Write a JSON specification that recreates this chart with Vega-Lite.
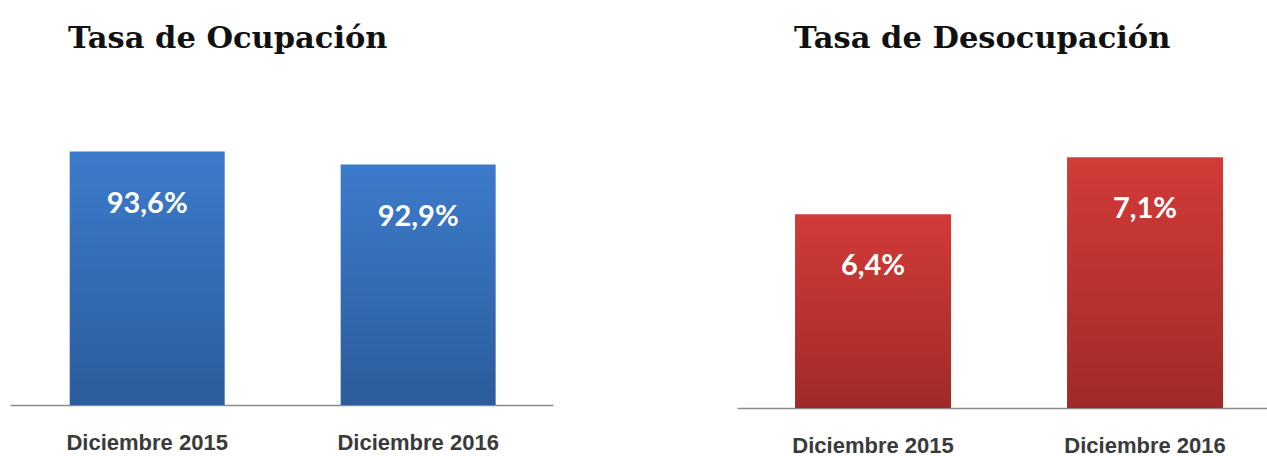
{
  "$schema": "https://vega.github.io/schema/vega-lite/v6.json",
  "background": "white",
  "padding": {"left": 10, "top": 23, "right": 0, "bottom": 0},
  "spacing": 184,
  "config": {
    "view": {"stroke": null},
    "axisX": {
      "domainColor": "#8c8c8c",
      "domainWidth": 1.5,
      "ticks": false,
      "grid": false,
      "labelFont": "Liberation Sans",
      "labelFontSize": 22,
      "labelFontWeight": "bold",
      "labelColor": "#3a3a3a",
      "labelPadding": 27,
      "labelAngle": 0,
      "title": null
    },
    "title": {
      "font": "DejaVu Serif",
      "fontSize": 30.5,
      "fontWeight": "bold",
      "color": "#111111",
      "anchor": "start",
      "baseline": "alphabetic",
      "offset": 54
    }
  },
  "hconcat": [
    {
      "width": 543,
      "height": 297,
      "title": {"text": "Tasa de Ocupación", "dx": 58},
      "data": {
        "values": [
          {"periodo": "Diciembre 2015", "tasa": 93.6, "etiqueta": "93,6%"},
          {"periodo": "Diciembre 2016", "tasa": 92.9, "etiqueta": "92,9%"}
        ]
      },
      "encoding": {
        "x": {
          "field": "periodo",
          "type": "nominal",
          "sort": null,
          "scale": {"paddingInner": 0.428, "paddingOuter": 0.216, "align": 0.51}
        },
        "y": {
          "field": "tasa",
          "type": "quantitative",
          "scale": {"domain": [79.95, 95.95], "nice": false, "zero": false},
          "axis": null
        }
      },
      "layer": [
        {
          "mark": {
            "type": "bar",
            "color": {
              "gradient": "linear",
              "x1": 0, "y1": 0, "x2": 0, "y2": 1,
              "stops": [
                {"offset": 0, "color": "#3c7bcb"},
                {"offset": 1, "color": "#2c5c9b"}
              ]
            }
          },
          "encoding": {"y2": {"datum": 79.95}}
        },
        {
          "mark": {
            "type": "text",
            "color": "white",
            "font": "Lato",
            "fontSize": 29,
            "fontWeight": "bold",
            "baseline": "alphabetic",
            "dy": 61
          },
          "encoding": {"text": {"field": "etiqueta"}}
        }
      ]
    },
    {
      "width": 530,
      "height": 300,
      "title": {"text": "Tasa de Desocupación", "dx": 57},
      "data": {
        "values": [
          {"periodo": "Diciembre 2015", "tasa": 6.4, "etiqueta": "6,4%"},
          {"periodo": "Diciembre 2016", "tasa": 7.1, "etiqueta": "7,1%"}
        ]
      },
      "encoding": {
        "x": {
          "field": "periodo",
          "type": "nominal",
          "sort": null,
          "scale": {"paddingInner": 0.4265, "paddingOuter": 0.1875, "align": 0.569}
        },
        "y": {
          "field": "tasa",
          "type": "quantitative",
          "scale": {"domain": [4.02, 7.705], "nice": false, "zero": false},
          "axis": null
        }
      },
      "layer": [
        {
          "mark": {
            "type": "bar",
            "color": {
              "gradient": "linear",
              "x1": 0, "y1": 0, "x2": 0, "y2": 1,
              "stops": [
                {"offset": 0, "color": "#d23b38"},
                {"offset": 1, "color": "#9f2a28"}
              ]
            }
          },
          "encoding": {"y2": {"datum": 4.02}}
        },
        {
          "mark": {
            "type": "text",
            "color": "white",
            "font": "Lato",
            "fontSize": 29,
            "fontWeight": "bold",
            "baseline": "alphabetic",
            "dy": 61
          },
          "encoding": {"text": {"field": "etiqueta"}}
        }
      ]
    }
  ]
}
